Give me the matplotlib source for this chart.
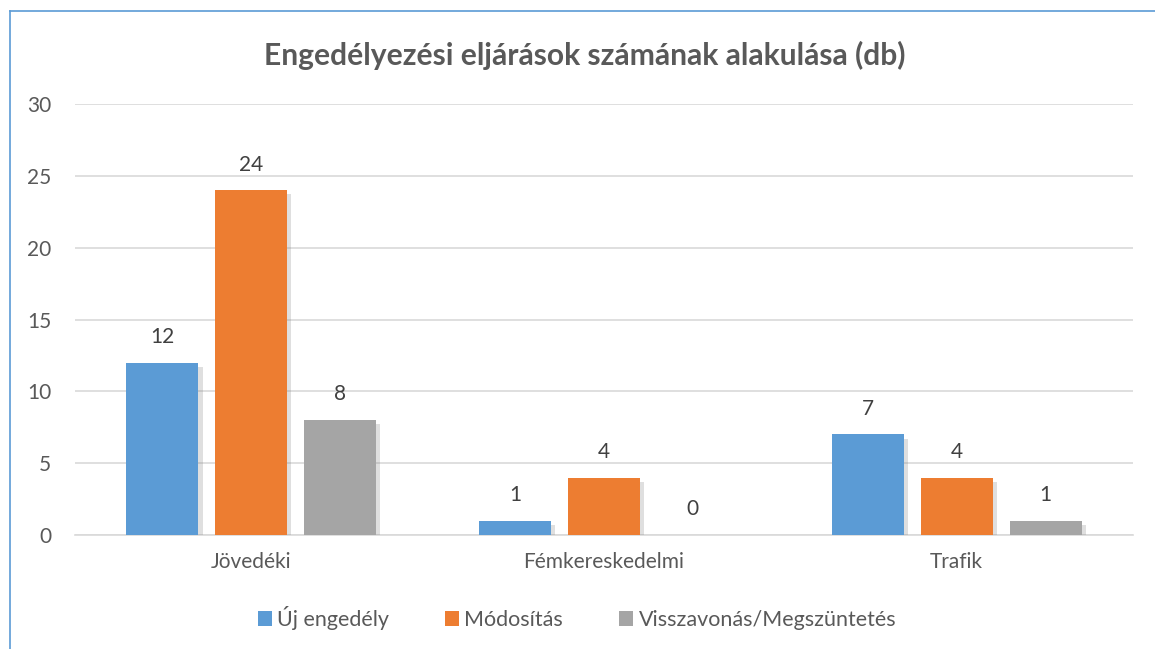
import matplotlib
matplotlib.use("Agg")
import matplotlib.pyplot as plt
import matplotlib.patheffects as pe
import numpy as np

categories = ["Jövedéki", "Fémkereskedelmi", "Trafik"]
series_names = ["Új engedély", "Módosítás", "Visszavonás/Megszüntetés"]
uj_engedely = [12, 1, 7]
modositas = [24, 4, 4]
visszavonas = [8, 0, 1]
yticks = [0, 5, 10, 15, 20, 25, 30]
title = "Engedélyezési eljárások számának alakulása (db)"

colors = ["#5B9BD5", "#ED7D31", "#A5A5A5"]
text_color = "#595959"
plt.rcParams['font.family'] = ['Lato', 'DejaVu Sans']

W, H = 1155, 649
fig = plt.figure(figsize=(W / 100, H / 100), dpi=100)
ax = fig.add_axes([75 / W, 1 - 535 / H, (1133 - 75) / W, (535 - 104) / H])

x = np.arange(len(categories))
bw = 0.204
step = 0.252
all_series = [uj_engedely, modositas, visszavonas]
shadow = [pe.SimplePatchShadow(offset=(3, -3), shadow_rgbFace="#8c8c8c", alpha=0.28), pe.Normal()]
for i, (vals, name, c) in enumerate(zip(all_series, series_names, colors)):
    pos = x + (i - 1) * step
    bars = ax.bar(pos, vals, bw, color=c, label=name, zorder=3)
    for b in bars:
        b.set_path_effects(shadow)
    for p, v in zip(pos, vals):
        ax.annotate(str(v), (p, v), xytext=(0, 18.5), textcoords="offset points",
                    ha="center", va="center", fontsize=15, color="#404040", zorder=4)

ax.set_xlim(-0.5, len(categories) - 0.5)
ax.set_ylim(0, 30)
ax.set_yticks(yticks)
ax.set_yticklabels([str(t) for t in yticks], fontsize=15, color=text_color)
ax.set_xticks(x)
ax.set_xticklabels(categories, fontsize=15, color=text_color)
ax.tick_params(axis="both", length=0)
ax.tick_params(axis="y", pad=17)
ax.tick_params(axis="x", pad=12)
ax.grid(axis="y", color="#D9D9D9", linewidth=1.2, zorder=0)
for s in ["top", "right", "left"]:
    ax.spines[s].set_visible(False)
ax.spines["bottom"].set_color("#D9D9D9")
ax.spines["bottom"].set_linewidth(1.2)

fig.text(585 / W, 1 - 55 / H, title, ha="center", va="center", fontsize=21.6,
         fontweight="bold", color=text_color)

handles, labels = ax.get_legend_handles_labels()
leg = fig.legend(handles, labels, loc="center", bbox_to_anchor=(577 / W, 1 - 618 / H),
                 ncol=3, frameon=False, fontsize=15.5, handlelength=0.65, handleheight=0.65,
                 handletextpad=0.25, columnspacing=2.6)
for t in leg.get_texts():
    t.set_color(text_color)
for h in leg.legend_handles:
    h.set_path_effects([])

# outer border (top and left visible)
fig.add_artist(plt.Line2D([9.5 / W, 9.5 / W], [0, 1 - 11 / H], color="#5B9BD5", lw=1.2,
                          transform=fig.transFigure))
fig.add_artist(plt.Line2D([9.5 / W, 1], [1 - 11 / H, 1 - 11 / H], color="#5B9BD5", lw=1.2,
                          transform=fig.transFigure))

fig.savefig("out.png", dpi=100, facecolor="white")
